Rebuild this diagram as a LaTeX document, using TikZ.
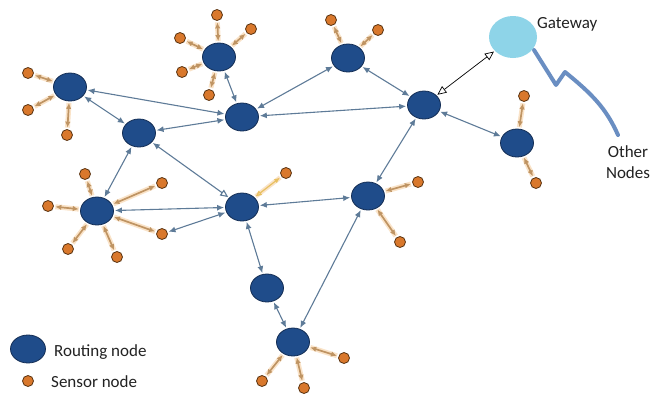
\documentclass[tikz,border=0pt]{standalone}
\usepackage{fontspec}
\setmainfont{Carlito}
\usetikzlibrary{arrows.meta,shapes.geometric}
\definecolor{rfill}{HTML}{1F4C8A}
\definecolor{rline}{HTML}{142E55}
\definecolor{sfill}{HTML}{D9782C}
\definecolor{sline}{HTML}{5A3412}
\definecolor{redgec}{HTML}{5E7B98}
\definecolor{sedgec}{HTML}{BF9463}
\definecolor{glow}{HTML}{FAE3C8}
\definecolor{yedgec}{HTML}{E8C060}
\definecolor{gwfill}{HTML}{8ED4E8}
\definecolor{zig}{HTML}{6A8EC2}
\definecolor{txt}{HTML}{222222}
\tikzset{
 rnode/.style={ellipse, fill=rfill, draw=rline, line width=0.8pt, minimum width=33pt, minimum height=28pt, inner sep=0pt},
 snode/.style={circle, fill=sfill, draw=sline, line width=0.8pt, minimum size=11pt, inner sep=0pt},
 redge/.style={draw=redgec, line width=1.1pt, {Latex[length=7pt,width=6pt]}-{Latex[length=7pt,width=6pt]}, shorten <=1pt, shorten >=1pt},
 sedge/.style={draw=sedgec, line width=1.7pt, {Latex[length=6pt,width=5.5pt]}-{Latex[length=6pt,width=5.5pt]}, preaction={draw=glow, line width=5pt, -}, shorten <=1.5pt, shorten >=1.5pt},
 lbl/.style={font=\fontsize{17}{21}\selectfont, text=txt, inner sep=0pt},
}
\begin{document}
\begin{tikzpicture}[x=1pt,y=-1pt]
\useasboundingbox[fill=white] (0,0) rectangle (664,394);
% zig-zag line to other nodes
\coordinate (z0) at (534,50);
\coordinate (z3) at (618,135);
\draw[zig, line width=4pt, line cap=round, line join=round] (z0) -- (556,85) -- (565,72) .. controls (592,94) and (606,108) .. (z3);
% routing nodes
\node[rnode] (A) at (70,87) {};
\node[rnode] (B) at (219,57) {};
\node[rnode] (C) at (139,133) {};
\node[rnode] (D) at (242,117) {};
\node[rnode] (E) at (348,58) {};
\node[rnode] (F) at (424,105) {};
\node[rnode] (G) at (517,143) {};
\node[rnode] (H) at (97,211) {};
\node[rnode] (I) at (242,207) {};
\node[rnode] (J) at (368,196) {};
\node[rnode] (K) at (267,288) {};
\node[rnode] (L) at (293,342) {};
% gateway
\node[ellipse, fill=gwfill, minimum width=48pt, minimum height=42pt, inner sep=0pt] (GW) at (513,37) {};
\node[lbl, anchor=west] (gwt) at (537,24) {Gateway};
\node[lbl, align=center] (other) at (628,162) {Other\\Nodes};
% sensors
\node[snode] (a1) at (28,73) {};
\node[snode] (a2) at (28,110) {};
\node[snode] (a3) at (67,135) {};
\node[snode] (b1) at (217,15) {};
\node[snode] (b2) at (251,29) {};
\node[snode] (b3) at (180,38) {};
\node[snode] (b4) at (182,72) {};
\node[snode] (b5) at (209,95) {};
\node[snode] (e1) at (331,20) {};
\node[snode] (e2) at (378,30) {};
\node[snode] (g1) at (524,96) {};
\node[snode] (g2) at (536,183) {};
\node[snode] (j1) at (418,182) {};
\node[snode] (j2) at (400,242) {};
\node[snode] (h1) at (85,174) {};
\node[snode] (h2) at (162,183) {};
\node[snode] (h3) at (48,206) {};
\node[snode] (h4) at (162,234) {};
\node[snode] (h5) at (68,249) {};
\node[snode] (h6) at (117,257) {};
\node[snode] (i1) at (286,173) {};
\node[snode] (l1) at (344,358) {};
\node[snode] (l2) at (262,381) {};
\node[snode] (l3) at (304,388) {};
% routing connections
\draw[redge] (A) -- (D);
\draw[redge] (A) -- (C);
\draw[redge] (B) -- (D);
\draw[redge] (E) -- (D);
\draw[redge] (F) -- (D);
\draw[redge] (C) -- (D);
\draw[redge] (E) -- (F);
\draw[redge] (F) -- (G);
\draw[redge] (F) -- (J);
\draw[redge] (C) -- (H);
\draw[redge, {Latex[length=7pt,width=6pt]}-{Triangle[open,length=8pt,width=7pt]}, draw=redgec] (C) -- (I);
\draw[redge] (H) -- (I);
\draw[redge] (I) -- (J);
\draw[redge] (I) -- (K);
\draw[redge] (K) -- (L);
\draw[redge] (J) -- (L);
\draw[redge] (h4) -- (I);
% gateway link
\draw[black, line width=0.7pt, {Triangle[open,length=9pt,width=8pt]}-{Triangle[open,length=9pt,width=8pt]}, shorten <=1pt, shorten >=1pt] (F) -- (GW);
% sensor connections
\foreach \s in {a1,a2,a3} \draw[sedge] (A) -- (\s);
\foreach \s in {b1,b2,b3,b4,b5} \draw[sedge] (B) -- (\s);
\foreach \s in {e1,e2} \draw[sedge] (E) -- (\s);
\foreach \s in {g1,g2} \draw[sedge] (G) -- (\s);
\foreach \s in {j1,j2} \draw[sedge] (J) -- (\s);
\foreach \s in {h1,h2,h3,h4,h5,h6} \draw[sedge] (H) -- (\s);
\foreach \s in {l1,l2,l3} \draw[sedge] (L) -- (\s);
\draw[draw=yedgec, line width=1.2pt, {Triangle[open,length=6pt,width=5pt]}-{Latex[length=6pt,width=5pt]}, preaction={draw=glow, line width=4.5pt, -}, shorten <=1.5pt, shorten >=1.5pt] (I) -- (i1);
% legend
\node[rnode, minimum width=35pt] (legR) at (28,349) {};
\node[lbl, anchor=west] (legRt) at (54,352) {Routing node};
\node[snode] (legS) at (28,381) {};
\node[lbl, anchor=west] (legSt) at (51,382) {Sensor node};
\end{tikzpicture}
\end{document}
